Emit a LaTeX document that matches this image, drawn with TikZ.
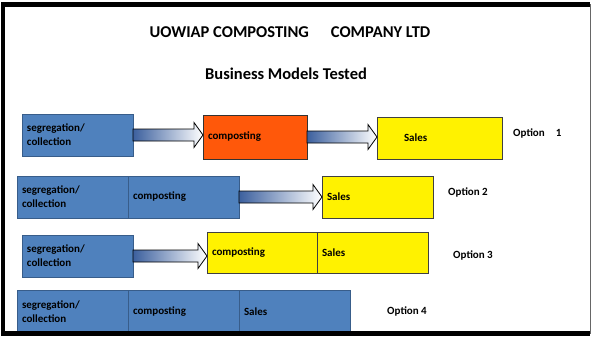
\documentclass[tikz,border=0pt]{standalone}
\usepackage{fontspec}
\setmainfont{Carlito}
\usetikzlibrary{positioning}
\usetikzlibrary{calc}
\definecolor{boxblue}{RGB}{79,129,189}
\definecolor{boxborder}{RGB}{56,93,138}
\definecolor{compost}{RGB}{255,88,10}
\definecolor{arrowblue}{RGB}{60,96,158}

% shaded block arrow from one node to the next
\newcommand{\flowarrow}[2]{%
	\draw[flowstyle] let \p1=(#1.east), \p2=(#2.west) in
		(\x1,\y1+6pt) -- (\x2-9pt,\y1+6pt) -- (\x2-9pt,\y1+12.5pt) -- (\x2,\y1)
		-- (\x2-9pt,\y1-12.5pt) -- (\x2-9pt,\y1-6pt) -- (\x1,\y1-6pt) -- cycle;}

\begin{document}
\begin{tikzpicture}[
	x=1pt,y=-1pt,
	blockbox/.style={draw,anchor=north west,outer sep=0pt,minimum height=42pt,text width=#1,
		inner xsep=5pt,align=left,line width=0.8pt,font=\bfseries\fontsize{11}{14}\selectfont},
	bluebox/.style={blockbox=#1,fill=boxblue,draw=boxborder},
	bluebox/.default=101pt,
	yellowbox/.style={blockbox=#1,fill=yellow,draw=black!75},
	yellowbox/.default=101pt,
	orangebox/.style={blockbox=#1,fill=compost,draw=black!80},
	flowstyle/.style={draw=black,line width=0.8pt,left color=arrowblue,right color=white},
	option/.style={anchor=west,inner xsep=0pt,font=\bfseries\fontsize{11}{14}\selectfont},
	heading/.style={font=\bfseries\fontsize{16.5}{20}\selectfont}
]

	% page
	\useasboundingbox (0,0) rectangle (592,337);
	\fill[white] (0,0) rectangle (592,337);

	% headings
	\node[heading] (title) at (290,32) {UOWIAP COMPOSTING\hspace{22pt}COMPANY LTD};
	\node[heading] (subtitle) at (286,74) {Business Models Tested};

	% option 1
	\node[bluebox] (seg1) at (22,114) {segregation/\\collection};
	\node[orangebox=94pt,minimum height=44pt] (comp1) at (203,115) {composting};
	\node[yellowbox=115pt] (sales1) at (377,117) {\hspace*{22pt}Sales};
	\node[option] (opt1) at (513,133) {Option\hspace{11pt}1};
	\flowarrow{seg1}{comp1}
	\flowarrow{comp1}{sales1}

	% option 2
	\node[bluebox] (seg2) at (17,176) {segregation/\\collection};
	\node[bluebox,right=0pt of seg2] (comp2) {composting};
	\node[yellowbox] (sales2) at (322,176) {Sales};
	\node[option] (opt2) at (448,192) {Option 2};
	\flowarrow{comp2}{sales2}

	% option 3
	\node[bluebox] (seg3) at (22,235) {segregation/\\collection};
	\node[yellowbox=100pt,minimum height=41pt] (comp3) at (207,232) {composting};
	\node[yellowbox,minimum height=41pt,right=0pt of comp3] (sales3) {Sales};
	\node[option] (opt3) at (453,255) {Option 3};
	\flowarrow{seg3}{comp3}

	% option 4
	\node[bluebox,minimum height=43pt] (seg4) at (17,290) {segregation/\\collection};
	\node[bluebox,minimum height=43pt,right=0pt of seg4] (comp4) {composting};
	\node[bluebox,minimum height=43pt,right=0pt of comp4] (sales4) {Sales};
	\node[option] (opt4) at (387,311) {Option 4};

	% frame
	\draw[line width=4.5pt] (590,4.5) -- (3,4.5) -- (3,333.5) -- (590,333.5);
	\draw[black!60,line width=0.8pt] (590.5,4.5) -- (590.5,333.5);

\end{tikzpicture}
\end{document}
